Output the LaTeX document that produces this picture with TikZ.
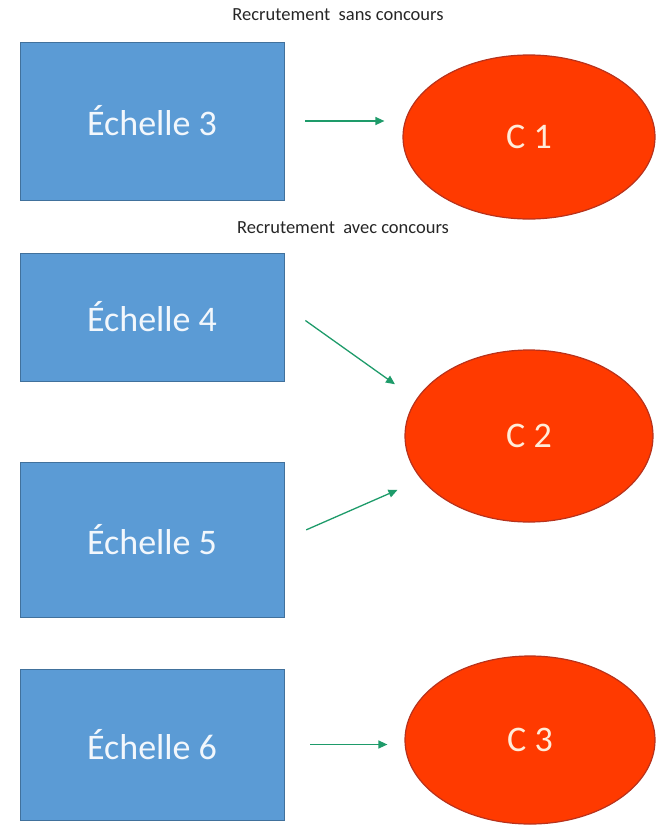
\documentclass[tikz,border=0pt]{standalone}
\usepackage{fontspec}
\setmainfont{Carlito}
\usetikzlibrary{arrows.meta, shapes.geometric}

\definecolor{boxblue}{HTML}{5B9BD5}
\definecolor{boxline}{HTML}{41719C}
\definecolor{ovalred}{HTML}{FF3A00}
\definecolor{ovalline}{HTML}{B8321C}
\definecolor{arrowgreen}{HTML}{1E9B6A}

\begin{document}
\begin{tikzpicture}[x=1pt, y=-1pt,
    echelle/.style={draw=boxline, fill=boxblue, minimum width=264pt, inner sep=0pt,
        text=white!92!boxblue, font=\fontsize{36}{40}\selectfont},
    categorie/.style={ellipse, draw=ovalline, line width=1.2pt, fill=ovalred, inner sep=0pt,
        text=white!85!orange, font=\fontsize{36}{40}\selectfont},
    lien/.style={draw=arrowgreen, line width=1.3pt, -{Triangle[length=9pt, width=8pt]}},
    titre/.style={font=\fontsize{18.5}{20}\selectfont, text=black!85}]
    \useasboundingbox (0,0) rectangle (659,827);

    % Recrutement sans concours
    \node[titre] (sans) at (338,15) {Recrutement\ \ sans concours};
    \node[echelle, minimum height=158pt] (e3) at (152,121) {Échelle 3};
    \node[categorie, minimum width=252pt, minimum height=164pt] (c1) at (529,137) {C 1};
    \draw[lien, shorten <=21pt, shorten >=18pt] (e3.east) -- (e3.east -| c1.west);

    % Recrutement avec concours
    \node[titre] (avec) at (343,228) {Recrutement\ \ avec concours};
    \node[echelle, minimum height=128pt] (e4) at (152,317) {Échelle 4};
    \node[echelle, minimum height=155pt] (e5) at (152,539.5) {Échelle 5};
    \node[categorie, minimum width=248pt, minimum height=172pt] (c2) at (529,436) {C 2};
    \draw[lien, shorten <=26pt, shorten >=26pt] (e4.5) -- (c2.162);
    \draw[lien, shorten <=24pt, shorten >=26pt] (e5.east) -- (c2.202);

    % Echelle 6
    \node[echelle, minimum height=151pt] (e6) at (152,744.5) {Échelle 6};
    \node[categorie, minimum width=250pt, minimum height=168pt] (c3) at (530,740) {C 3};
    \draw[lien, shorten <=26pt, shorten >=17pt] (e6.east) -- (e6.east -| c3.west);
\end{tikzpicture}
\end{document}
